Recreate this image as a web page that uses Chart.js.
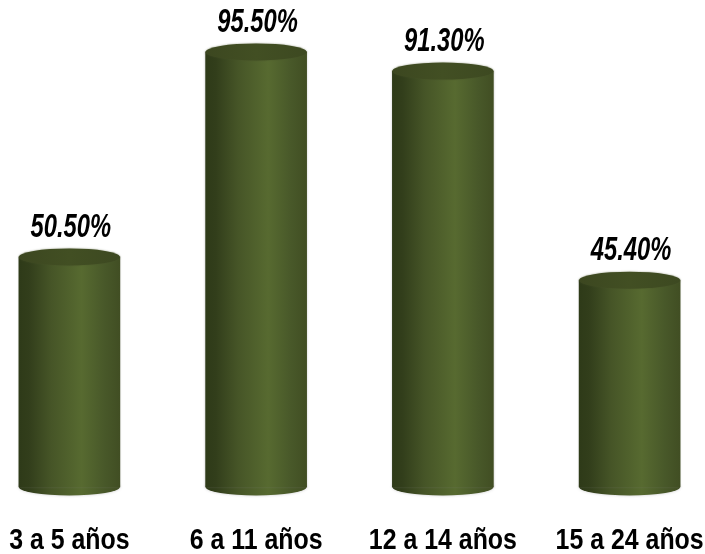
<!DOCTYPE html>
<html><head><meta charset="utf-8">
<style>html,body{margin:0;padding:0;background:#fff;overflow:hidden;width:705px;height:554px}#w{position:absolute;left:-24px;top:0;width:747px;height:554px}</style>
<script src="https://cdn.jsdelivr.net/npm/chart.js@4"></script></head>
<body><div id="w"><canvas id="c"></canvas></div>
<script>
const categories = ["3 a 5 años", "6 a 11 años", "12 a 14 años", "15 a 24 años"];
const values = [50.5, 95.5, 91.3, 45.4];

const BAR_W = 101, RY = 8.5;
const FONT = '"Liberation Sans",Arial,sans-serif';
const HALO = 'rgba(130,130,130,.45)';

function sideGradient(ctx, x) {
  const l = x - BAR_W / 2, g = ctx.createLinearGradient(l, 0, l + BAR_W, 0);
  g.addColorStop(0, '#2e3a18');
  g.addColorStop(0.1, '#323e1b');
  g.addColorStop(0.32, '#465527');
  g.addColorStop(0.62, '#576a30');
  g.addColorStop(0.85, '#485829');
  g.addColorStop(1, '#414e23');
  return g;
}
function topGradient(ctx, x) {
  const l = x - BAR_W / 2, g = ctx.createLinearGradient(l, 0, l + BAR_W, 0);
  g.addColorStop(0, '#3c4720');
  g.addColorStop(0.5, '#424f23');
  g.addColorStop(1, '#3d4921');
  return g;
}
function squeezedText(ctx, text, x, y, sx, font) {
  ctx.save();
  ctx.fillStyle = '#000';
  ctx.font = font;
  ctx.textAlign = 'center';
  ctx.textBaseline = 'alphabetic';
  ctx.translate(x, y);
  ctx.scale(sx, 1);
  ctx.fillText(text, 0, 0);
  ctx.restore();
}
const cylinders = {
  id: 'cylinders',
  beforeDatasetsDraw(chart) {
    const { ctx } = chart, base = chart.scales.y.getPixelForValue(0);
    chart.getDatasetMeta(0).data.forEach(el => {
      ctx.save();
      ctx.shadowColor = HALO;
      ctx.shadowBlur = 3;
      ctx.fillStyle = sideGradient(ctx, el.x);
      ctx.beginPath();
      ctx.ellipse(el.x, base, BAR_W / 2, RY, 0, 0, Math.PI * 2);
      ctx.fill();
      ctx.restore();
    });
    ctx.shadowColor = HALO;
    ctx.shadowBlur = 2;
  },
  afterDatasetsDraw(chart) {
    const { ctx } = chart, xs = chart.scales.x;
    ctx.shadowColor = 'transparent';
    ctx.shadowBlur = 0;
    chart.getDatasetMeta(0).data.forEach((el, i) => {
      ctx.save();
      ctx.shadowColor = 'rgba(70,80,40,.6)';
      ctx.shadowBlur = 2;
      ctx.fillStyle = topGradient(ctx, el.x);
      ctx.beginPath();
      ctx.ellipse(el.x, el.y, BAR_W / 2, RY, 0, 0, Math.PI * 2);
      ctx.fill();
      ctx.restore();
      squeezedText(ctx, values[i].toFixed(2) + '%', el.x + 1.5, el.y - 20, 0.72, 'italic bold 33px ' + FONT);
    });
    xs.ticks.forEach((t, i) => {
      squeezedText(ctx, xs.getLabelForValue(t.value), xs.getPixelForTick(i), 549, 0.83, 'bold 30px ' + FONT);
    });
  }
};
new Chart(document.getElementById('c'), {
  type: 'bar',
  data: {
    labels: categories,
    datasets: [{
      data: values,
      clip: false,
      barThickness: BAR_W,
      borderWidth: 0,
      backgroundColor(c) {
        const ch = c.chart;
        const x = ch.scales.x ? ch.scales.x.getPixelForValue(c.dataIndex) : NaN;
        if (!Number.isFinite(x)) return '#445326';
        return sideGradient(ch.ctx, x);
      }
    }]
  },
  options: {
    responsive: true,
    maintainAspectRatio: false,
    animation: false,
    events: [],
    layout: { padding: { left: 0, right: 0, top: 0, bottom: 67 } },
    plugins: { legend: { display: false }, tooltip: { enabled: false }, title: { display: false } },
    scales: {
      x: {
        grid: { display: false, drawTicks: false },
        border: { display: false },
        ticks: { display: false, autoSkip: false, maxRotation: 0 }
      },
      y: { display: false, min: 0, max: 106.9 }
    }
  },
  plugins: [cylinders]
});
</script></body></html>
